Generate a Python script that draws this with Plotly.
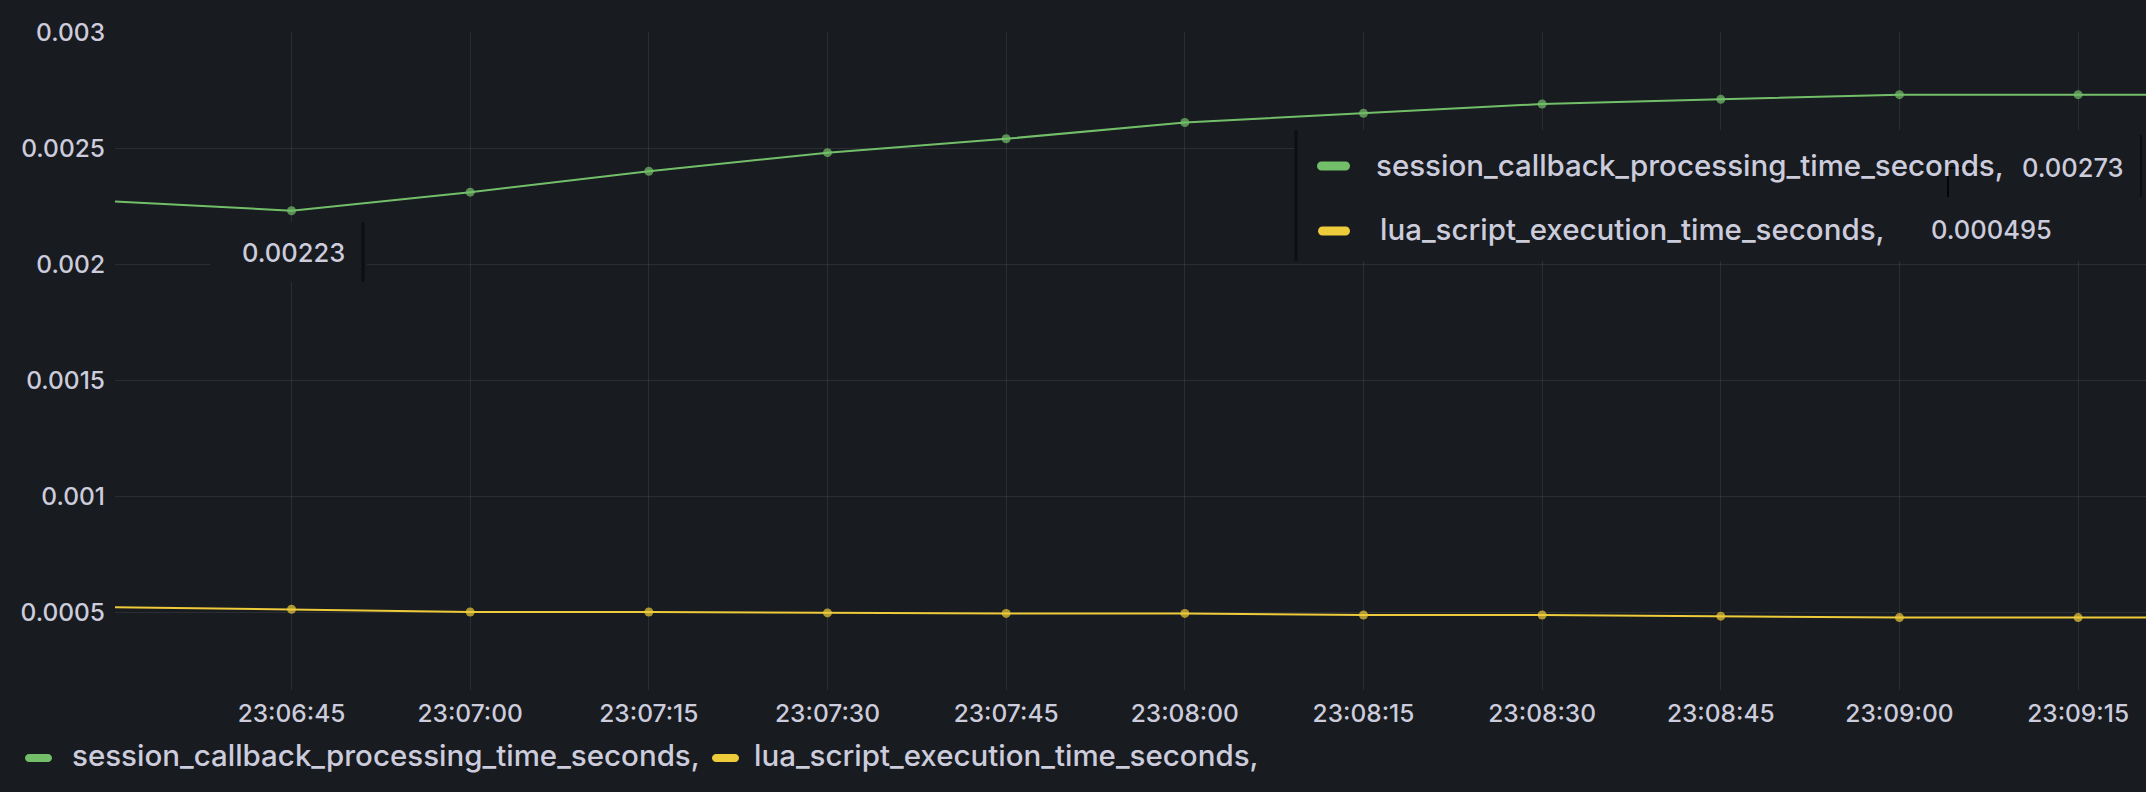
import plotly.graph_objects as go

# ---- data ----
times = ["2024-01-01 23:06:30", "2024-01-01 23:06:45", "2024-01-01 23:07:00", "2024-01-01 23:07:15",
         "2024-01-01 23:07:30", "2024-01-01 23:07:45", "2024-01-01 23:08:00", "2024-01-01 23:08:15",
         "2024-01-01 23:08:30", "2024-01-01 23:08:45", "2024-01-01 23:09:00", "2024-01-01 23:09:15",
         "2024-01-01 23:09:30"]
session_callback = [0.00227, 0.00223, 0.00231, 0.00240, 0.00248, 0.00254, 0.00261, 0.00265,
                    0.00269, 0.00271, 0.00273, 0.00273, 0.00273]
lua_script = [0.000522, 0.000513, 0.000501, 0.000501, 0.000497, 0.000495, 0.000495, 0.000488,
              0.000488, 0.000483, 0.000477, 0.000477, 0.000477]
series_names = ["session_callback_processing_time_seconds", "lua_script_execution_time_seconds"]
series_colors = ["#73bf69", "#edcb3a"]
x_ticks = ["2024-01-01 23:06:45", "2024-01-01 23:07:00", "2024-01-01 23:07:15", "2024-01-01 23:07:30",
           "2024-01-01 23:07:45", "2024-01-01 23:08:00", "2024-01-01 23:08:15", "2024-01-01 23:08:30",
           "2024-01-01 23:08:45", "2024-01-01 23:09:00", "2024-01-01 23:09:15"]
y_ticks = [0.0005, 0.001, 0.0015, 0.002, 0.0025, 0.003]
y_tick_labels = ["0.0005", "0.001", "0.0015", "0.002", "0.0025", "0.003"]
tooltip_values = ["0.00273", "0.000495"]
hover_value = "0.00223"

# ---- layout geometry (pixels) ----
W, H = 2146, 792
PL, PR, PT, PB = 115, 2146, 32, 690
BG = "#181b1f"
TXT = "#ccccdc"
FONT = "Inter, Roboto, sans-serif"


def px(x):
    return (x - PL) / (PR - PL)


def py(y):
    return (PB - y) / (PB - PT)


# the first sample lies just left of the visible range: hide its marker
marker_sizes = [0] + [9] * (len(times) - 1)

fig = go.Figure()
for name, vals, col in zip(series_names, [session_callback, lua_script], series_colors):
    fig.add_trace(go.Scatter(x=times, y=vals, name=name, mode="lines+markers",
                             line=dict(color=col, width=2),
                             marker=dict(color=col, size=marker_sizes, line=dict(width=0)),
                             showlegend=False))

shapes = []
annotations = []


def pill(x0, x1, yc, h, color):
    r = h / 2.0
    k = 0.5523 * r
    pts = [
        ("M", [(x0 + r, yc - r)]),
        ("L", [(x1 - r, yc - r)]),
        ("C", [(x1 - r + k, yc - r), (x1, yc - k), (x1, yc)]),
        ("C", [(x1, yc + k), (x1 - r + k, yc + r), (x1 - r, yc + r)]),
        ("L", [(x0 + r, yc + r)]),
        ("C", [(x0 + r - k, yc + r), (x0, yc + k), (x0, yc)]),
        ("C", [(x0, yc - k), (x0 + r - k, yc - r), (x0 + r, yc - r)]),
    ]
    path = ""
    for cmd, ps in pts:
        path += cmd + " " + " ".join(f"{px(a):.6f},{py(b):.6f}" for a, b in ps) + " "
    path += "Z"
    shapes.append(dict(type="path", path=path, xref="paper", yref="paper",
                       fillcolor=color, line=dict(width=0), layer="above"))


def rect(x0, y0, x1, y1, color):
    shapes.append(dict(type="rect", xref="paper", yref="paper", x0=px(x0), x1=px(x1),
                       y0=py(y1), y1=py(y0), fillcolor=color, line=dict(width=0), layer="above"))


def line(x0, y0, x1, y1, color, w):
    shapes.append(dict(type="line", xref="paper", yref="paper", x0=px(x0), x1=px(x1),
                       y0=py(y0), y1=py(y1), line=dict(color=color, width=w), layer="above"))


def text(x, y, s, size, anchor="left", weight=500):
    annotations.append(dict(text=s, x=px(x), y=py(y), xref="paper", yref="paper",
                            xanchor=anchor, yanchor="middle", showarrow=False,
                            font=dict(family=FONT, size=size, color=TXT, weight=weight)))


LEG = 29.5

# bottom legend
pill(25, 52, 758, 8, series_colors[0])
text(70, 755, series_names[0] + ",", LEG)
pill(712, 739, 758, 8, series_colors[1])
text(752, 755, series_names[1] + ",", LEG)

# hover value box
rect(210, 222, 367, 282, BG)
line(363, 222, 363, 282, "#0e0f12", 3)
text(293, 252, hover_value, 25.5, anchor="center")

# tooltip box
rect(1297, 130, 2146, 261, BG)
line(1296, 130, 1296, 261, "#0e0f12", 3)
line(2141, 135, 2141, 197, "#0e0f12", 2)
pill(1317, 1350, 166, 9, series_colors[0])
text(1374, 165, series_names[0] + ",", LEG)
text(2020, 167, tooltip_values[0], 25.5)
pill(1318, 1350, 231, 9, series_colors[1])
text(1378, 229, series_names[1] + ",", LEG)
text(1929, 230, tooltip_values[1], 25.5)
line(1948, 168, 1992, 168, "#000000", 1.5)
line(1948, 168, 1948, 197, "#000000", 1.5)

fig.update_layout(
    width=W, height=H,
    margin=dict(l=PL, r=W - PR, t=PT, b=H - PB),
    paper_bgcolor=BG, plot_bgcolor=BG,
    font=dict(family=FONT, color=TXT, size=24.5),
    shapes=shapes, annotations=annotations,
    showlegend=False,
    hovermode=False,
)
fig.update_xaxes(type="date", range=["2024-01-01 23:06:30.18", "2024-01-01 23:09:20.7"],
                 tickvals=x_ticks, tickformat="%H:%M:%S",
                 showgrid=True, gridcolor="rgba(204,204,220,0.10)", gridwidth=1,
                 zeroline=False, showline=False, ticks="",
                 tickfont=dict(family=FONT, size=24.5, color=TXT, weight=500), ticklabelstandoff=6)
fig.update_yaxes(range=[0.000165, 0.003], tickvals=y_ticks, ticktext=y_tick_labels,
                 showgrid=True, gridcolor="rgba(204,204,220,0.10)", gridwidth=1,
                 zeroline=False, showline=False, ticks="",
                 tickfont=dict(family=FONT, size=24.5, color=TXT, weight=500), ticklabelstandoff=9)

fig.write_html("out.html")
